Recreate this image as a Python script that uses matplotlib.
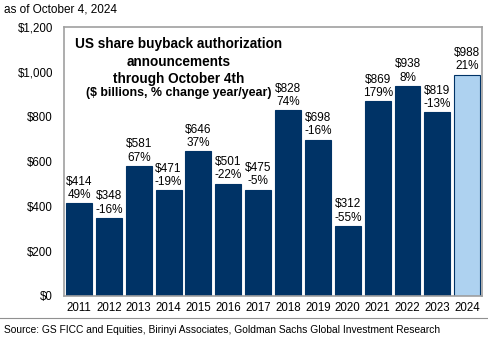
import matplotlib
matplotlib.use('Agg')
from matplotlib import pyplot as plt

plt.rcParams['font.family'] = ['Liberation Sans', 'DejaVu Sans']

years = ['2011', '2012', '2013', '2014', '2015', '2016', '2017', '2018', '2019',
         '2020', '2021', '2022', '2023', '2024']
values = [414, 348, 581, 471, 646, 501, 475, 828, 698, 312, 869, 938, 819, 988]
changes = ['49%', '-16%', '67%', '-19%', '37%', '-22%', '-5%', '74%', '-16%',
           '-55%', '179%', '8%', '-13%', '21%']

fig = plt.figure(figsize=(4.89, 3.39), dpi=100)
ax = fig.add_axes([0.131, 0.127, 0.855, 0.793])

colors = ['#003366'] * (len(years) - 1) + ['#aed2f0']
x = list(range(len(years)))
ax.bar(x, values, width=0.87, color=colors, edgecolor='#003366', linewidth=0.8)

for xi, v, c in zip(x, values, changes):
    ax.text(xi, v + 10, '${:,}\n{}'.format(v, c), ha='center', va='bottom',
            fontsize=8.5, linespacing=1.15)

ax.set_ylim(0, 1200)
ax.set_xlim(-0.5, len(years) - 0.5)
ax.set_yticks(range(0, 1201, 200))
ax.set_yticklabels(['${:,}'.format(t) for t in range(0, 1201, 200)])
ax.set_xticks(x)
ax.set_xticklabels(years)
ax.tick_params(length=0, labelsize=8.3, pad=4)
ax.tick_params(axis='y', pad=8)
for s in ax.spines.values():
    s.set_color('#a0a0a0')
    s.set_linewidth(1.2)

ax.text(0.275, 0.963, 'US share buyback authorization\nannouncements\nthrough October 4th',
        transform=ax.transAxes, ha='center', va='top', fontsize=9.8,
        fontweight='bold', linespacing=1.32)
ax.text(0.275, 0.756, '($ billions, % change year/year)', transform=ax.transAxes,
        ha='center', va='center', fontsize=8.9, fontweight='bold')

fig.text(0.008, 0.99, 'as of October 4, 2024', ha='left', va='top', fontsize=8.5)
fig.text(0.008, 0.027, 'Source: GS FICC and Equities, Birinyi Associates, Goldman Sachs Global Investment Research',
         ha='left', va='center', fontsize=7.35)
fig.add_artist(plt.Line2D([0.0, 1.0], [0.062, 0.062], color='#909090', linewidth=0.8))

fig.savefig('out.png', dpi=100)
